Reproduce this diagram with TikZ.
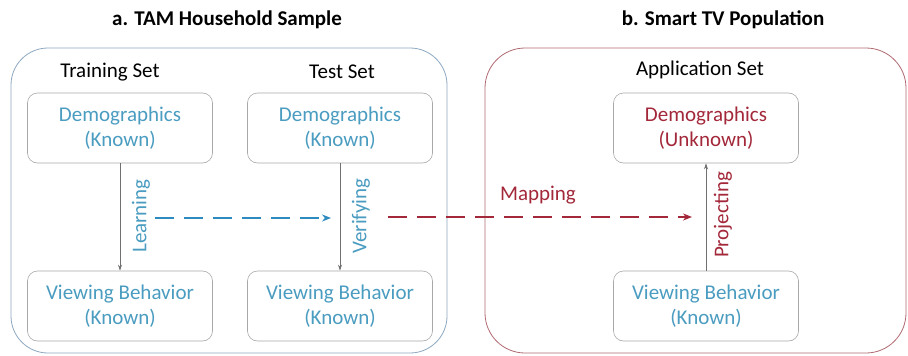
\documentclass[tikz,border=0pt]{standalone}
\usepackage{fontspec}
\setmainfont{Carlito}
\usetikzlibrary{arrows.meta}
\definecolor{tblue}{HTML}{4A9CC0}
\definecolor{tred}{HTML}{A3283A}
\definecolor{dblue}{HTML}{2E8BC0}
\definecolor{lbox}{HTML}{8EA9C1}
\definecolor{rbox}{HTML}{B06A72}
\definecolor{ibox}{HTML}{A8A8A8}
\definecolor{garrow}{HTML}{707070}
\begin{document}
\begin{tikzpicture}[x=1pt,y=-1pt,
  txt/.style={font=\fontsize{21}{25}\selectfont},
  title/.style={font=\fontsize{21}{25}\selectfont\bfseries},
  inner/.style={draw=ibox,line width=0.6pt,rounded corners=10pt,minimum width=185pt,minimum height=70pt,align=center,inner sep=0pt,font=\fontsize{21}{25}\selectfont},
  vlab/.style={rotate=90,font=\fontsize{21}{25}\selectfont},
  garr/.style={draw=garrow,line width=0.7pt,-{Stealth[length=6pt,width=4pt]}},
  dasharr/.style={line width=2.2pt,dash pattern=on 19pt off 10pt,-{Stealth[length=9pt,width=7pt]}},
]
\useasboundingbox (0,0) rectangle (908,356);
\fill[white] (0,0) rectangle (908,356);
% outer boxes
\draw[lbox,line width=0.8pt,rounded corners=37pt] (11,48) rectangle (447,353);
\draw[rbox,line width=0.8pt,rounded corners=40pt] (485,48) rectangle (906,353);
% titles
\node[title] (ta) at (227,20) {a. TAM Household Sample};
\node[title] (tb) at (723,20) {b. Smart TV Population};
\node[txt] (trs) at (110,72) {Training Set};
\node[txt] (tss) at (342,72) {Test Set};
\node[txt] (aps) at (700,70) {Application Set};
% inner boxes
\node[inner,text=tblue] (d1) at (120,128) {Demographics\\(Known)};
\node[inner,text=tblue] (d2) at (340,128) {Demographics\\(Known)};
\node[inner,text=tred] (d3) at (706,128) {Demographics\\(Unknown)};
\node[inner,text=tblue] (v1) at (120,306) {Viewing Behavior\\(Known)};
\node[inner,text=tblue] (v2) at (340,306) {Viewing Behavior\\(Known)};
\node[inner,text=tblue] (v3) at (706,306) {Viewing Behavior\\(Known)};
% vertical arrows
\draw[garr] (d1) -- (v1);
\draw[garr] (d2) -- (v2);
\draw[garr] (v3) -- (d3);
\node[vlab,text=tblue] (l1) at (141,216) {Learning};
\node[vlab,text=tblue] (l2) at (361,216) {Verifying};
\node[vlab,text=tred] (l3) at (723,215) {Projecting};
% dashed arrows
\coordinate (b1) at (155,218);
\coordinate (b2) at (331,218);
\coordinate (r1) at (388,217);
\coordinate (r2) at (692,217);
\draw[dblue,dasharr] (b1) -- (b2);
\draw[tred,dasharr] (r1) -- (r2);
\node[txt,text=tred] (mp) at (538,195) {Mapping};
\end{tikzpicture}
\end{document}
